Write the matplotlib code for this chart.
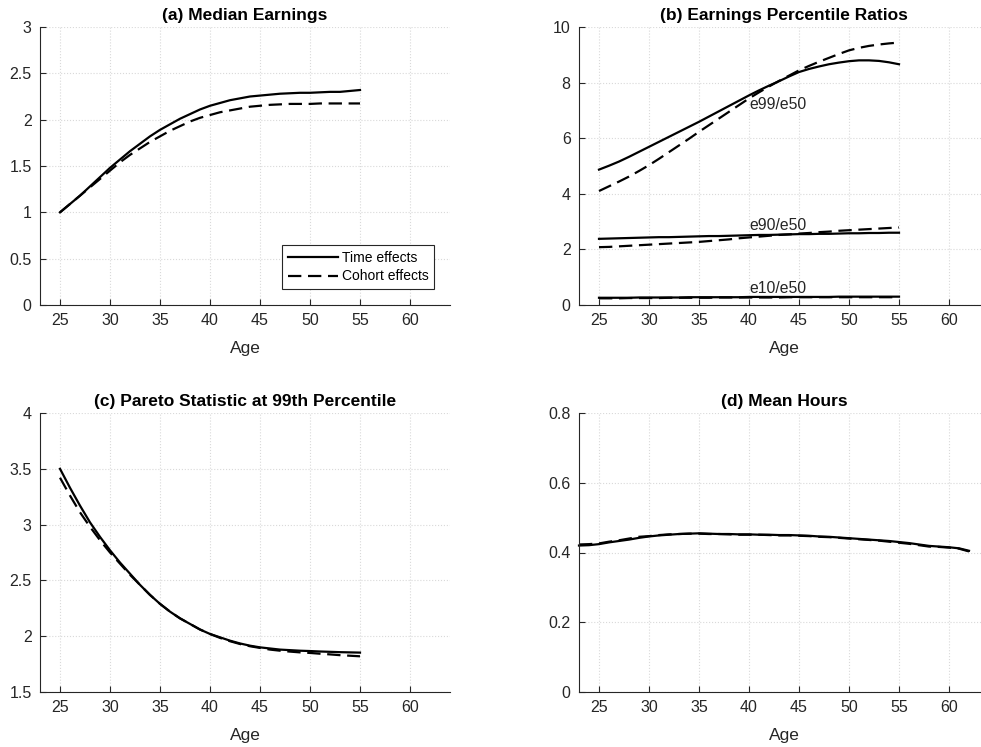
import matplotlib
matplotlib.use("Agg")
import matplotlib.pyplot as plt
from matplotlib import rcParams

# font settings
rcParams['font.family'] = ['Liberation Sans', 'DejaVu Sans']
rcParams['axes.unicode_minus'] = False

# ---- data ----
age_work = list(range(25, 56))
age_hours = list(range(23, 63))

median_time = [1.00, 1.09, 1.18, 1.28, 1.38, 1.48, 1.57, 1.66, 1.74, 1.82, 1.89,
               1.95, 2.01, 2.06, 2.11, 2.15, 2.18, 2.21, 2.23, 2.25, 2.26,
               2.27, 2.28, 2.285, 2.29, 2.29, 2.295, 2.30, 2.30, 2.31, 2.32]
median_cohort = [1.00, 1.09, 1.18, 1.27, 1.36, 1.45, 1.54, 1.62, 1.69, 1.76, 1.82,
                 1.88, 1.93, 1.98, 2.02, 2.05, 2.08, 2.10, 2.12, 2.14, 2.15,
                 2.16, 2.165, 2.17, 2.17, 2.17, 2.175, 2.175, 2.175, 2.175, 2.175]

e99_time = [4.87, 5.01, 5.16, 5.33, 5.51, 5.69, 5.87, 6.05, 6.23, 6.41, 6.59,
            6.78, 6.97, 7.16, 7.35, 7.54, 7.72, 7.89, 8.05, 8.22, 8.38,
            8.49, 8.58, 8.66, 8.72, 8.77, 8.80, 8.80, 8.78, 8.73, 8.66]
e99_cohort = [4.10, 4.27, 4.44, 4.62, 4.82, 5.03, 5.26, 5.50, 5.74, 5.98, 6.23,
              6.47, 6.71, 6.95, 7.19, 7.43, 7.65, 7.86, 8.06, 8.25, 8.44,
              8.60, 8.75, 8.89, 9.03, 9.16, 9.25, 9.32, 9.37, 9.41, 9.44]
e90_time = [2.38, 2.39, 2.40, 2.41, 2.42, 2.43, 2.44, 2.44, 2.45, 2.46, 2.47,
            2.48, 2.48, 2.49, 2.50, 2.51, 2.52, 2.52, 2.53, 2.54, 2.55,
            2.55, 2.56, 2.56, 2.57, 2.58, 2.58, 2.59, 2.59, 2.60, 2.60]
e90_cohort = [2.08, 2.09, 2.11, 2.13, 2.15, 2.17, 2.19, 2.21, 2.23, 2.25, 2.27,
              2.30, 2.33, 2.36, 2.40, 2.43, 2.46, 2.49, 2.52, 2.54, 2.57,
              2.59, 2.62, 2.64, 2.67, 2.69, 2.71, 2.73, 2.75, 2.77, 2.79]
e10_time = [0.26, 0.26, 0.26, 0.26, 0.27, 0.27, 0.27, 0.27, 0.27, 0.28, 0.28,
            0.28, 0.28, 0.28, 0.28, 0.29, 0.29, 0.29, 0.29, 0.29, 0.29,
            0.29, 0.29, 0.29, 0.30, 0.30, 0.30, 0.30, 0.30, 0.30, 0.30]
e10_cohort = [0.24, 0.24, 0.24, 0.25, 0.25, 0.25, 0.25, 0.26, 0.26, 0.26, 0.26,
              0.26, 0.27, 0.27, 0.27, 0.27, 0.27, 0.27, 0.27, 0.28, 0.28,
              0.28, 0.28, 0.28, 0.28, 0.28, 0.28, 0.28, 0.28, 0.28, 0.28]

pareto_time = [3.50, 3.33, 3.17, 3.02, 2.89, 2.77, 2.66, 2.56, 2.46, 2.37, 2.29,
               2.22, 2.16, 2.11, 2.06, 2.02, 1.99, 1.96, 1.935, 1.915, 1.90,
               1.89, 1.88, 1.875, 1.87, 1.867, 1.863, 1.86, 1.857, 1.855, 1.853]
pareto_cohort = [3.42, 3.26, 3.11, 2.98, 2.86, 2.75, 2.65, 2.55, 2.46, 2.37, 2.29,
                 2.22, 2.16, 2.11, 2.06, 2.02, 1.985, 1.955, 1.93, 1.91, 1.895,
                 1.88, 1.87, 1.862, 1.855, 1.85, 1.843, 1.837, 1.83, 1.825, 1.82]

hours_time = [0.420, 0.421, 0.424, 0.429, 0.433, 0.437, 0.442, 0.446, 0.449, 0.451,
              0.453, 0.454, 0.455, 0.454, 0.453, 0.453, 0.452, 0.452, 0.451, 0.451,
              0.450, 0.450, 0.449, 0.448, 0.446, 0.445, 0.443, 0.441, 0.439, 0.437,
              0.435, 0.433, 0.430, 0.427, 0.423, 0.419, 0.417, 0.415, 0.412, 0.405]
hours_cohort = [0.423, 0.424, 0.426, 0.431, 0.435, 0.440, 0.445, 0.447, 0.450, 0.452,
                0.453, 0.454, 0.454, 0.453, 0.453, 0.452, 0.451, 0.451, 0.451, 0.450,
                0.449, 0.449, 0.448, 0.447, 0.445, 0.444, 0.442, 0.440, 0.438, 0.436,
                0.434, 0.431, 0.428, 0.425, 0.421, 0.417, 0.416, 0.414, 0.411, 0.403]

xticks = [25, 30, 35, 40, 45, 50, 55, 60]
ratio_labels = ["e99/e50", "e90/e50", "e10/e50"]

# ---- styling ----
LW = 1.6
DASH = (0, (6, 3))
TXT = '#262626'


def style_axes(ax, title, ylim, yticks):
    ax.set_xlim(23, 64)
    ax.set_ylim(*ylim)
    ax.set_xticks(xticks)
    ax.set_yticks(yticks)
    ax.set_title(title, fontsize=12.5, fontweight='bold', pad=5)
    ax.set_xlabel("Age", fontsize=12.5, color=TXT, labelpad=9)
    ax.grid(True, linestyle=':', color='#d9d9d9', linewidth=0.8)
    ax.set_axisbelow(True)
    for s in ['top', 'right']:
        ax.spines[s].set_visible(False)
    for s in ['left', 'bottom']:
        ax.spines[s].set_color(TXT)
        ax.spines[s].set_linewidth(0.8)
    ax.tick_params(direction='in', length=4, width=0.8, colors=TXT,
                   labelsize=11.5, pad=6)


fig = plt.figure(figsize=(9.81, 7.47), dpi=100)
W, H = 981, 747


def add_ax(left, top, right, bottom):
    return fig.add_axes([left / W, 1 - bottom / H, (right - left) / W, (bottom - top) / H])


ax_a = add_ax(40, 27, 450, 305)
ax_b = add_ax(579, 27, 989, 305)
ax_c = add_ax(40, 413, 450, 692)
ax_d = add_ax(579, 413, 989, 692)

# (a) median earnings
ax_a.plot(age_work, median_time, color='k', lw=LW, label="Time effects")
ax_a.plot(age_work, median_cohort, color='k', lw=LW, linestyle=DASH, label="Cohort effects")
style_axes(ax_a, "(a) Median Earnings", (0, 3), [0, 0.5, 1, 1.5, 2, 2.5, 3])
ax_a.set_yticklabels(["0", "0.5", "1", "1.5", "2", "2.5", "3"])
leg = ax_a.legend(loc='lower right', bbox_to_anchor=(1 - 16 / 410, 16 / 278),
                  borderaxespad=0, fontsize=10, fancybox=False, framealpha=1,
                  edgecolor=TXT, handlelength=3.6, borderpad=0.4, labelspacing=0.35,
                  handletextpad=0.3)
leg.get_frame().set_linewidth(0.8)

# (b) percentile ratios
for t, c in [(e99_time, e99_cohort), (e90_time, e90_cohort), (e10_time, e10_cohort)]:
    ax_b.plot(age_work, t, color='k', lw=LW)
    ax_b.plot(age_work, c, color='k', lw=LW, linestyle=DASH)
for lab, yy in zip(ratio_labels, [7.2, 2.87, 0.6]):
    ax_b.text(40, yy, lab, fontsize=11.3, color=TXT, va='center', ha='left')
style_axes(ax_b, "(b) Earnings Percentile Ratios", (0, 10), [0, 2, 4, 6, 8, 10])

# (c) pareto statistic
ax_c.plot(age_work, pareto_time, color='k', lw=LW)
ax_c.plot(age_work, pareto_cohort, color='k', lw=LW, linestyle=DASH)
style_axes(ax_c, "(c) Pareto Statistic at 99th Percentile", (1.5, 4), [1.5, 2, 2.5, 3, 3.5, 4])
ax_c.set_yticklabels(["1.5", "2", "2.5", "3", "3.5", "4"])

# (d) mean hours
ax_d.plot(age_hours, hours_time, color='k', lw=LW, clip_on=False)
ax_d.plot(age_hours, hours_cohort, color='k', lw=LW, linestyle=DASH)
style_axes(ax_d, "(d) Mean Hours", (0, 0.8), [0, 0.2, 0.4, 0.6, 0.8])
ax_d.set_yticklabels(["0", "0.2", "0.4", "0.6", "0.8"])

fig.savefig("out.png", dpi=100)
